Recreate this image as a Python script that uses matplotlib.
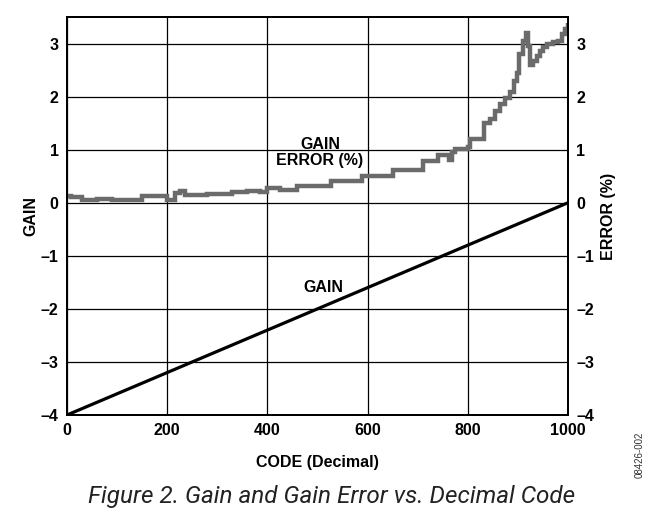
import numpy as np
import matplotlib.pyplot as plt

# * Data
code_err = [0, 8, 30, 60, 90, 110, 150, 195, 200, 215, 225, 235, 280, 330, 360,
            385, 400, 425, 460, 527, 588, 650, 710, 740, 762, 768, 775, 800,
            805, 833, 844, 855, 864, 875, 884, 892, 898, 903, 910, 916, 920,
            924, 930, 938, 945, 950, 958, 970, 980, 988, 994, 1000]
gain_err = [0.13, 0.10, 0.06, 0.07, 0.05, 0.06, 0.12, 0.12, 0.05, 0.19, 0.22,
            0.15, 0.17, 0.20, 0.22, 0.21, 0.28, 0.24, 0.32, 0.41, 0.51, 0.62,
            0.79, 0.90, 0.80, 0.95, 1.01, 1.05, 1.20, 1.50, 1.57, 1.72, 1.86,
            1.98, 2.09, 2.30, 2.45, 2.80, 3.05, 3.20, 2.95, 2.60, 2.68, 2.76,
            2.85, 2.93, 3.00, 3.03, 3.05, 3.18, 3.28, 3.38]
code_gain = [0, 1000]
gain = [-4, 0]

xticks = [0, 200, 400, 600, 800, 1000]
yticks = [-4, -3, -2, -1, 0, 1, 2, 3]
ylabels = ['\u20134', '\u20133', '\u20132', '\u20131', '0', '1', '2', '3']

plt.rcParams['font.family'] = ['Liberation Sans', 'DejaVu Sans']
FS = 11.5

fig = plt.figure(figsize=(6.59, 5.14), dpi=100)
ax = fig.add_axes([67/659, 1 - 415/514, (568-67)/659, (415-17)/514])

ax.plot(code_gain, gain, color='black', lw=2.3, solid_capstyle='butt', zorder=3)
ax.plot(code_err, gain_err, color='#6b6b6b', lw=3.2, drawstyle='steps-post',
        solid_joinstyle='miter', solid_capstyle='butt', zorder=2)

ax.set_xlim(0, 1000)
ax.set_ylim(-4, 3.5)
ax.set_xticks(xticks)
ax.set_yticks(yticks)
ax.set_yticklabels(ylabels)
ax.grid(True, color='black', lw=0.9)
ax.tick_params(length=0, labelsize=FS, pad=6)
for lab in ax.get_xticklabels() + ax.get_yticklabels():
    lab.set_fontweight('bold')
for s in ax.spines.values():
    s.set_linewidth(1.4)

ax2 = ax.twinx()
ax2.set_ylim(-4, 3.5)
ax2.set_yticks(yticks)
ax2.set_yticklabels(ylabels)
ax2.tick_params(length=0, labelsize=FS, pad=6)
for lab in ax2.get_yticklabels():
    lab.set_fontweight('bold')
for s in ax2.spines.values():
    s.set_linewidth(1.4)

ax.set_xlabel('CODE (Decimal)', fontsize=FS, fontweight='bold', labelpad=12)
ax.set_ylabel('GAIN', fontsize=FS, fontweight='bold', labelpad=1.5)
ax2.set_ylabel('ERROR (%)', fontsize=FS, fontweight='bold', labelpad=5)

ax.text(505, 0.95, 'GAIN\nERROR (%)', ha='center', va='center', fontsize=FS,
        fontweight='bold', linespacing=1.05)
ax.text(512, -1.6, 'GAIN', ha='center', va='center', fontsize=FS, fontweight='bold')

fig.text(640/659, 1 - 455/514, '08426-002', rotation=90, ha='center', va='center',
         fontsize=7, color='#333333')
fig.text(332/659, 1 - 497/514, 'Figure 2. Gain and Gain Error vs. Decimal Code',
         ha='center', va='center', fontsize=17.5, style='italic',
         family=['Roboto', 'DejaVu Sans'], color='#222222')

fig.savefig('out.png', dpi=100)
